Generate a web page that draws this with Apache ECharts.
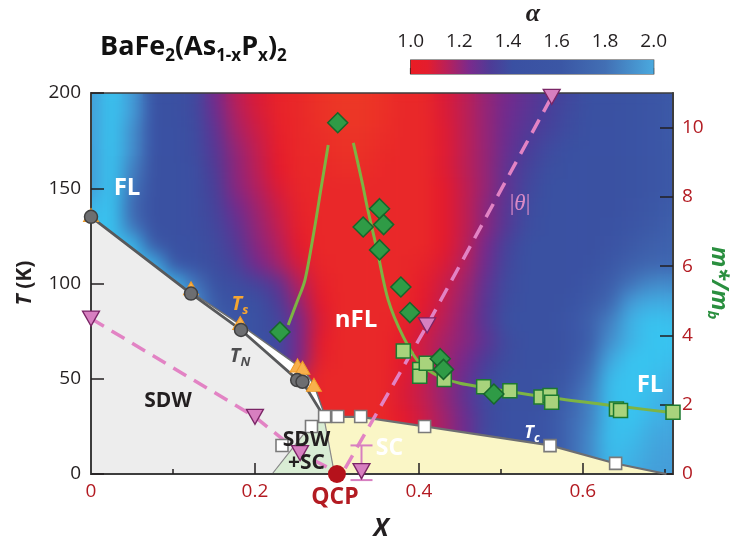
<!DOCTYPE html>
<html><head><meta charset="utf-8">
<script src="https://cdn.jsdelivr.net/npm/echarts@6/dist/echarts.min.js"></script>
<style>
html,body{margin:0;padding:0;background:#fff;}
#wrap{position:relative;width:734px;height:542px;}
#clip{position:absolute;left:91px;top:93px;width:582px;height:381px;overflow:hidden;}
#bgA,#bgB{position:absolute;left:-91px;top:-93px;width:734px;height:542px;}
#bgB{filter:blur(9px);}
#fg{position:absolute;left:0;top:0;width:734px;height:542px;}
</style></head><body>
<div id="wrap"><div id="clip"><div id="bgA"></div><div id="bgB"></div></div><div id="fg"></div></div>
<script>
// ---------- alpha map (x columns, T rows; rows listed from T=200 down to T=0) ----------
const alphaX = [0.000,0.025,0.051,0.076,0.101,0.127,0.152,0.178,0.203,0.228,0.254,0.279,0.304,0.330,0.355,0.380,0.406,0.431,0.456,0.482,0.507,0.533,0.558,0.583,0.609,0.634,0.659,0.685,0.710];
const alphaT = [0,10,20,30,40,50,60,70,80,90,100,110,120,130,140,150,160,170,180,190,200];
const alphaGrid = [
 [1.85,2.05,1.85,1.45,1.45, 1.42,1.25,1.13,1.07,1.02, 1.00,0.97,0.95,0.95,0.97, 1.00,1.00,1.07,1.13,1.20, 1.25,1.30,1.35,1.40,1.45, 1.45,1.47,1.50,1.55],
 [1.85,2.05,1.85,1.45,1.45, 1.42,1.27,1.15,1.08,1.02, 1.00,0.97,0.95,0.95,0.97, 1.00,1.00,1.07,1.13,1.20, 1.26,1.31,1.36,1.42,1.45, 1.45,1.47,1.50,1.55],
 [1.85,2.05,1.80,1.45,1.45, 1.43,1.30,1.17,1.10,1.03, 1.00,0.98,0.96,0.96,0.98, 1.00,1.00,1.06,1.13,1.20, 1.27,1.33,1.38,1.43,1.45, 1.45,1.47,1.50,1.55],
 [1.85,2.05,1.80,1.45,1.45, 1.43,1.32,1.20,1.12,1.04, 1.00,0.99,0.97,0.97,0.99, 1.00,1.00,1.06,1.13,1.20, 1.28,1.35,1.42,1.45,1.45, 1.45,1.47,1.50,1.55],
 [1.85,2.05,1.75,1.45,1.45, 1.44,1.34,1.21,1.13,1.05, 1.00,1.00,0.98,0.98,1.00, 1.00,1.00,1.06,1.13,1.20, 1.30,1.38,1.44,1.45,1.45, 1.45,1.47,1.50,1.55],
 [1.85,2.05,1.70,1.45,1.45, 1.44,1.36,1.22,1.15,1.07, 1.01,1.00,1.00,1.00,1.00, 1.00,1.00,1.05,1.12,1.20, 1.30,1.40,1.45,1.45,1.45, 1.45,1.47,1.50,1.55],
 [1.95,2.05,1.65,1.45,1.45, 1.44,1.38,1.26,1.18,1.10, 1.02,1.00,1.00,1.00,1.00, 1.00,1.00,1.05,1.12,1.22, 1.32,1.42,1.45,1.45,1.45, 1.45,1.48,1.52,1.57],
 [2.00,2.05,1.70,1.45,1.45, 1.44,1.40,1.30,1.20,1.12, 1.03,1.00,1.00,1.00,1.00, 1.00,1.00,1.05,1.12,1.22, 1.33,1.43,1.45,1.45,1.45, 1.46,1.50,1.55,1.60],
 [2.00,2.00,2.00,1.55,1.45, 1.45,1.42,1.33,1.22,1.15, 1.05,1.00,1.00,1.00,1.00, 1.00,1.00,1.05,1.13,1.25, 1.38,1.45,1.45,1.45,1.45, 1.48,1.55,1.60,1.62],
 [2.00,2.00,2.00,1.95,1.50, 1.45,1.43,1.37,1.25,1.18, 1.08,1.01,1.00,1.00,1.00, 1.00,1.02,1.07,1.15,1.27, 1.40,1.45,1.45,1.45,1.46, 1.52,1.60,1.65,1.65],
 [2.00,2.00,2.00,2.00,1.95, 1.70,1.45,1.43,1.38,1.30, 1.15,1.03,1.00,1.00,1.00, 1.00,1.04,1.10,1.18,1.30, 1.42,1.45,1.45,1.45,1.50, 1.58,1.70,1.78,1.78],
 [2.00,2.00,2.00,2.00,2.00, 1.80,1.55,1.45,1.45,1.35, 1.20,1.05,1.00,1.00,1.00, 1.00,1.05,1.12,1.20,1.32, 1.43,1.45,1.45,1.47,1.55, 1.65,1.85,1.92,1.90],
 [1.80,1.80,1.80,1.80,1.80, 1.70,1.60,1.50,1.45,1.40, 1.25,1.07,1.00,1.00,1.00, 1.02,1.07,1.14,1.22,1.33, 1.45,1.45,1.45,1.50,1.60, 1.75,1.95,2.05,2.00],
 [1.60,1.60,1.60,1.60,1.60, 1.60,1.55,1.50,1.45,1.42, 1.25,1.05,1.00,1.00,1.00, 1.04,1.10,1.17,1.22,1.30, 1.42,1.45,1.45,1.48,1.58, 1.80,1.95,2.05,2.05],
 [1.50,1.50,1.50,1.50,1.50, 1.50,1.50,1.45,1.45,1.42, 1.25,1.03,1.00,1.00,1.00, 1.05,1.10,1.18,1.25,1.35, 1.43,1.45,1.45,1.50,1.65, 1.90,2.05,2.05,2.00],
 [1.45,1.45,1.45,1.45,1.45, 1.45,1.45,1.45,1.45,1.40, 1.10,1.00,1.00,1.00,1.00, 1.06,1.12,1.20,1.28,1.40, 1.45,1.45,1.47,1.55,1.70, 2.00,2.05,2.02,1.95],
 [1.45,1.45,1.45,1.45,1.45, 1.45,1.45,1.45,1.45,1.40, 1.05,1.00,1.00,1.00,1.00, 1.07,1.12,1.20,1.30,1.42, 1.45,1.45,1.47,1.60,1.75, 2.02,2.05,2.00,1.90],
 [1.45,1.45,1.45,1.45,1.45, 1.45,1.45,1.45,1.45,1.40, 1.05,1.00,1.00,1.00,1.00, 1.05,1.10,1.18,1.27,1.40, 1.45,1.45,1.50,1.65,1.75, 2.00,2.05,1.95,1.90],
 [1.45,1.45,1.45,1.45,1.45, 1.45,1.45,1.45,1.45,1.40, 1.05,1.00,1.00,1.00,1.00, 1.05,1.10,1.18,1.27,1.42, 1.45,1.45,1.50,1.65,1.78, 2.02,2.00,1.90,1.88],
 [1.45,1.45,1.45,1.45,1.45, 1.45,1.45,1.45,1.45,1.40, 1.05,1.00,1.00,1.00,1.00, 1.05,1.10,1.18,1.27,1.42, 1.45,1.45,1.50,1.65,1.78, 2.00,1.95,1.88,1.85],
 [1.45,1.45,1.45,1.45,1.45, 1.45,1.45,1.45,1.45,1.40, 1.05,1.00,1.00,1.00,1.00, 1.05,1.10,1.18,1.27,1.42, 1.45,1.45,1.50,1.65,1.78, 1.98,1.92,1.86,1.85]
];

// ---------- phase boundaries (x, T) ----------
const tnLine = [[0,135],[0.122,94.7],[0.183,75.6],[0.2525,49.3],[0.258,48.4],[0.283,31]];
const tsLine = [[0.122,95.5],[0.183,78.2],[0.252,57],[0.258,55.5],[0.272,46.8],[0.285,31]];
const tcLine = [[0.283,31],[0.301,30],[0.329,30],[0.407,25],[0.56,15],[0.64,5.5],[0.702,0]];
const sdwScEdge = [[0.221,0],[0.265,24],[0.284,30],[0.297,0]];

// ---------- markers ----------
const tnPts = [[0,135],[0.122,94.7],[0.183,75.6],[0.2515,49.3],[0.258,48.4]];
const tsPts = [[0,136],[0.122,97.5],[0.182,79.3],[0.252,57],[0.258,55.8],[0.272,46.8]];
const tcPts = [[0.233,15],[0.269,24.9],[0.285,30.2],[0.301,30.2],[0.329,30.2],[0.407,24.9],[0.56,14.9],[0.64,5.6]];
const thetaPts = [[0,81.6],[0.2,30],[0.255,11],[0.33,1.5],[0.41,78],[0.562,198]];
const thetaLeft = [[0,81.6],[0.2,30],[0.255,11],[0.293,2.5]];
const thetaRight = [[0.31,3],[0.41,78],[0.562,198]];
const thetaErr = [[0.33,-3.2,15]];
const qcp = [[0.30,0]];

// ---------- effective mass m*/mb (right axis) ----------
const mDiamond = [[0.301,10.14],[0.352,7.66],[0.332,7.13],[0.357,7.2],[0.352,6.47],[0.378,5.4],[0.389,4.66],[0.2305,4.1],[0.426,3.33],[0.43,3.02],[0.4915,2.31]];
const mSquare = [[0.381,3.55],[0.401,3.02],[0.401,2.82],[0.409,3.2],[0.431,2.73],[0.479,2.52],[0.511,2.4],[0.549,2.22],[0.56,2.27],[0.562,2.07],[0.641,1.88],[0.646,1.83],[0.71,1.78]];
const fitLeft = [[0.2406,4.3],[0.251,4.95],[0.261,5.6],[0.272,7.0],[0.281,8.3],[0.2894,9.5]];
const fitRight = [[0.32,9.56],[0.331,8.4],[0.337,7.7],[0.349,6.47],[0.3626,5.02],[0.381,3.96],[0.401,3.2],[0.426,2.8],[0.45,2.62],[0.474,2.52],[0.568,2.18],[0.649,1.94],[0.71,1.77]];

// ---------- ticks ----------
const xLabels = [0,0.2,0.4,0.6];
const xMajorTicks = [0.2,0.4,0.6];
const xMinorTicks = [0.1,0.3,0.5,0.7];
const tTicks = [0,50,100,150,200];
const mTicks = [0,2,4,6,8,10];
const cbTicks = [1.0,1.2,1.4,1.6,1.8,2.0];

// ================= background alpha heat map (sharp layer + blurred layer) =================
const heatData = [];
alphaGrid.forEach((row, r) => {
  const j = alphaT.length - 1 - r;
  row.forEach((v, i) => heatData.push([i, j, v]));
});
const heatOption = {
  animation: false,
  grid: {left: 80.607, top: 83.475, width: 602.79, height: 400.05},
  xAxis: {type: 'category', data: alphaX.map(String), show: false},
  yAxis: {type: 'category', data: alphaT.map(String), show: false},
  visualMap: {show: false, min: 0.95, max: 2.05, dimension: 2, seriesIndex: 0,
    inRange: {color: ['#ec3726','#e51a2c','#b3205f','#75298d','#4a3d98','#3a51a2','#3c59a7','#3f66b0','#4480c2','#459dd8','#3fb3e6','#38c4f0']}},
  series: [{type: 'heatmap', data: heatData, progressive: 0}]
};
echarts.init(document.getElementById('bgA')).setOption(heatOption);
echarts.init(document.getElementById('bgB')).setOption(heatOption);

// ================= foreground =================
const FF = 'Open Sans';
function poly(pts, fill, stroke, lw, z) {
  return {type: 'custom', xAxisIndex: 0, yAxisIndex: 0, z: z, silent: true, data: [[0, 0]],
    renderItem: (p, api) => ({type: 'polygon', shape: {points: pts.map(q => api.coord(q))},
      style: {fill: fill, stroke: stroke || null, lineWidth: lw || 0}})};
}
function line(data, color, width, z, extra) {
  return Object.assign({type: 'line', data: data, symbol: 'none', z: z, silent: true,
    lineStyle: {color: color, width: width}}, extra || {});
}
function scatter(data, symbol, size, style, z, extra) {
  return Object.assign({type: 'scatter', data: data, symbol: symbol, symbolSize: size, z: z,
    clip: false, silent: true, itemStyle: Object.assign({opacity: 1}, style)}, extra || {});
}

const sdwPoly = [[0,0]].concat(tnLine, [[0.284,30],[0.265,24],[0.221,0]]);
const whitePoly = tsLine.concat(tnLine.slice(1).reverse());
const scPoly = [[0.297,0],[0.284,30]].concat(tcLine.slice(1));

const rich = (size, extra) => Object.assign({fontFamily: FF, fontWeight: 'bold', fontSize: size}, extra || {});
const dash = {color: '#e283c4', width: 3.5, type: [15, 9]};

const fg = echarts.init(document.getElementById('fg'));
fg.setOption({
  backgroundColor: 'transparent',
  animation: false,
  textStyle: {fontFamily: FF},
  grid: [
    {left: 91, top: 93, width: 582, height: 381, show: true, borderColor: '#3d3d3d', borderWidth: 1.5, backgroundColor: 'transparent'},
    {left: 410.7, top: 60, width: 243, height: 14, show: true, borderColor: '#3a3a3a', borderWidth: 1.2, backgroundColor: 'transparent'}
  ],
  xAxis: [
    {gridIndex: 0, type: 'value', min: 0, max: 0.71, position: 'bottom', z: 3,
      axisLine: {onZero: false, lineStyle: {color: '#3d3d3d', width: 2}},
      axisTick: {inside: true, length: 11, customValues: xMajorTicks, lineStyle: {color: '#231f20', width: 1.5}},
      axisLabel: {customValues: xLabels, color: '#b31b22', fontSize: 19, fontFamily: FF, margin: 8},
      splitLine: {show: false}},
    {gridIndex: 0, type: 'value', min: 0, max: 0.71, position: 'bottom', z: 3,
      axisLine: {show: false, onZero: false},
      axisTick: {inside: true, length: 5, customValues: xMinorTicks, lineStyle: {color: '#231f20', width: 1.5}},
      axisLabel: {show: false}, splitLine: {show: false}},
    {gridIndex: 1, type: 'value', min: 1, max: 2, position: 'top',
      axisLine: {show: false},
      axisTick: {inside: false, length: 6, customValues: cbTicks, lineStyle: {color: '#231f20', width: 1.2}},
      axisLabel: {customValues: cbTicks, formatter: v => v.toFixed(1), color: '#231f20', fontSize: 19, fontFamily: FF, margin: 9},
      splitLine: {show: false}}
  ],
  yAxis: [
    {gridIndex: 0, type: 'value', min: 0, max: 200, position: 'left', z: 3,
      axisLine: {show: true, onZero: false, lineStyle: {color: '#3d3d3d', width: 2}},
      axisTick: {show: true, inside: true, length: 13, customValues: tTicks, lineStyle: {color: '#231f20', width: 1.5}},
      axisLabel: {customValues: tTicks, color: '#231f20', fontSize: 19, fontFamily: FF, margin: 10},
      splitLine: {show: false}},
    {gridIndex: 0, type: 'value', min: 0, max: 11, position: 'right', z: 3,
      axisLine: {show: true, onZero: false, lineStyle: {color: '#3d3d3d', width: 2}},
      axisTick: {show: true, inside: true, length: 13, customValues: mTicks, lineStyle: {color: '#231f20', width: 1.5}},
      axisLabel: {customValues: mTicks, color: '#b31b22', fontSize: 19, fontFamily: FF, margin: 9},
      splitLine: {show: false}},
    {gridIndex: 1, type: 'value', min: 0, max: 1, show: false}
  ],
  series: [
    // colour bar
    {type: 'custom', xAxisIndex: 2, yAxisIndex: 2, silent: true, data: [[1, 0]], z: 1,
      renderItem: (p, api) => {
        const a = api.coord([cbTicks[0], 0]), b = api.coord([cbTicks[cbTicks.length - 1], 1]);
        return {type: 'rect', shape: {x: a[0], y: b[1], width: b[0] - a[0], height: a[1] - b[1]},
          style: {fill: new echarts.graphic.LinearGradient(0, 0, 1, 0, [
            {offset: 0, color: '#ea1c24'}, {offset: 0.07, color: '#e31d2e'}, {offset: 0.15, color: '#b8205a'},
            {offset: 0.24, color: '#7b2a8c'}, {offset: 0.33, color: '#4d3c97'}, {offset: 0.42, color: '#3a50a2'},
            {offset: 0.62, color: '#3b57a5'}, {offset: 0.8, color: '#426fb4'}, {offset: 1, color: '#4aa9de'}])}};
      }},
    // phase regions
    poly(sdwPoly, '#ededed', null, 0, 1),
    poly(whitePoly, '#ffffff', null, 0, 1),
    poly(scPoly, '#faf6c6', null, 0, 1),
    poly(sdwScEdge, '#d9edd4', '#8a8a8a', 1.2, 1),
    line(tsLine, '#6d6e71', 1.5, 4),
    line(tnLine, '#58595b', 2.8, 4),
    line(tcLine, '#6d6e71', 2.2, 4),
    // |theta| dashed lines
    line(thetaLeft, '#e283c4', 3.5, 4, {lineStyle: dash}),
    line(thetaRight, '#e283c4', 3.5, 4, {lineStyle: dash}),
    // error bar on theta
    {type: 'custom', xAxisIndex: 0, yAxisIndex: 0, z: 5, silent: true, clip: false, data: thetaErr,
      renderItem: (p, api) => {
        const x = api.value(0), lo = api.coord([x, api.value(1)]), hi = api.coord([x, api.value(2)]);
        const st = {stroke: '#d77fc0', lineWidth: 2};
        return {type: 'group', children: [
          {type: 'line', shape: {x1: lo[0], y1: lo[1], x2: hi[0], y2: hi[1]}, style: st},
          {type: 'line', shape: {x1: lo[0] - 11, y1: lo[1], x2: lo[0] + 11, y2: lo[1]}, style: st},
          {type: 'line', shape: {x1: hi[0] - 11, y1: hi[1], x2: hi[0] + 11, y2: hi[1]}, style: st}]};
      }},
    // fits to m*/mb
    line(fitLeft, '#7db443', 3, 4, {yAxisIndex: 1, smooth: 0.3}),
    line(fitRight, '#7db443', 3, 4, {yAxisIndex: 1, smooth: 0.3}),
    // markers
    scatter(qcp, 'circle', 18, {color: '#b5121b'}, 4),
    scatter(tsPts, 'triangle', [15, 13], {color: '#f8b04c', borderColor: '#ef9a26', borderWidth: 1}, 6),
    scatter(tnPts, 'circle', 13, {color: '#6d6e71', borderColor: '#404041', borderWidth: 1.5}, 7),
    scatter(tcPts, 'rect', 12, {color: '#ffffff', borderColor: '#7a7a7a', borderWidth: 1.6}, 7),
    scatter(thetaPts, 'triangle', [17, 15], {color: '#d77fc0', borderColor: '#7a2566', borderWidth: 1.3}, 7, {symbolRotate: 180}),
    scatter(mSquare, 'rect', 14, {color: '#a8d37c', borderColor: '#1c7a2f', borderWidth: 1.5}, 7, {yAxisIndex: 1}),
    scatter(mDiamond, 'diamond', [20, 20], {color: '#2f9b46', borderColor: '#17662b', borderWidth: 1.5}, 8, {yAxisIndex: 1})
  ],
  graphic: [
    {type: 'text', x: 100, y: 47, z: 100, silent: true, style: {
      text: '{m|BaFe}{s|2}{m|(As}{s|1-x}{m|P}{s|x}{m|)}{s|2}', align: 'left', verticalAlign: 'middle',
      rich: {m: rich(27, {fill: '#111', lineHeight: 30, verticalAlign: 'middle'}),
             s: rich(17, {fill: '#111', lineHeight: 17, padding: [19, 0, 0, 0], verticalAlign: 'middle'})}}},
    {type: 'text', x: 533, y: 14, z: 100, silent: true, style: {text: 'α', fontFamily: 'Liberation Serif', fontStyle: 'italic', fontWeight: 'bold', fontSize: 26, fill: '#231f20', align: 'center', verticalAlign: 'middle'}},
    {type: 'text', x: 25, y: 283, rotation: Math.PI / 2, z: 100, silent: true, style: {
      text: '{t|T}{k| (K)}', align: 'center', verticalAlign: 'middle',
      rich: {t: rich(21, {fontStyle: 'italic', fill: '#231f20'}), k: rich(21, {fill: '#231f20'})}}},
    {type: 'text', x: 381, y: 529, z: 100, silent: true, style: {text: 'X', fontFamily: FF, fontStyle: 'italic', fontWeight: 'bold', fontSize: 25, fill: '#231f20', align: 'center', verticalAlign: 'middle'}},
    {type: 'text', x: 719, y: 283, rotation: -Math.PI / 2, z: 100, silent: true, style: {
      text: '{m|m*/m}{s|b}', align: 'center', verticalAlign: 'middle',
      rich: {m: rich(23, {fontStyle: 'italic', fill: '#2a8f3f', lineHeight: 26, verticalAlign: 'middle'}),
             s: rich(15, {fontStyle: 'italic', fill: '#2a8f3f', lineHeight: 15, padding: [14, 0, 0, 0], verticalAlign: 'middle'})}}},
    {type: 'text', x: 127, y: 188, z: 100, silent: true, style: {text: 'FL', fontFamily: FF, fontWeight: 'bold', fontSize: 24, fill: '#fff', align: 'center', verticalAlign: 'middle'}},
    {type: 'text', x: 650, y: 385, z: 100, silent: true, style: {text: 'FL', fontFamily: FF, fontWeight: 'bold', fontSize: 24, fill: '#fff', align: 'center', verticalAlign: 'middle'}},
    {type: 'text', x: 356, y: 320, z: 100, silent: true, style: {text: 'nFL', fontFamily: FF, fontWeight: 'bold', fontSize: 24, fill: '#fff', align: 'center', verticalAlign: 'middle'}},
    {type: 'text', x: 168, y: 401, z: 100, silent: true, style: {text: 'SDW', fontFamily: FF, fontWeight: 'bold', fontSize: 21, fill: '#231f20', align: 'center', verticalAlign: 'middle'}},
    {type: 'text', x: 306.5, y: 451.5, z: 100, silent: true, style: {text: 'SDW\n+SC', fontFamily: FF, fontWeight: 'bold', fontSize: 21, lineHeight: 23, fill: '#231f20', align: 'center', verticalAlign: 'middle'}},
    {type: 'text', x: 389.5, y: 448.5, z: 100, silent: true, style: {text: 'SC', fontFamily: FF, fontWeight: 'bold', fontSize: 23, fill: '#fff', align: 'center', verticalAlign: 'middle'}},
    {type: 'text', x: 240, y: 304, z: 100, silent: true, style: {
      text: '{t|T}{s|s}', align: 'center', verticalAlign: 'middle',
      rich: {t: rich(20, {fontStyle: 'italic', fill: '#f6a531', lineHeight: 22, verticalAlign: 'middle'}),
             s: rich(13, {fontStyle: 'italic', fill: '#f6a531', lineHeight: 13, padding: [12, 0, 0, 0], verticalAlign: 'middle'})}}},
    {type: 'text', x: 240, y: 356, z: 100, silent: true, style: {
      text: '{t|T}{s|N}', align: 'center', verticalAlign: 'middle',
      rich: {t: rich(20, {fontStyle: 'italic', fill: '#4d4d4f', lineHeight: 22, verticalAlign: 'middle'}),
             s: rich(13, {fontStyle: 'italic', fill: '#4d4d4f', lineHeight: 13, padding: [12, 0, 0, 0], verticalAlign: 'middle'})}}},
    {type: 'text', x: 532, y: 433, z: 100, silent: true, style: {
      text: '{t|T}{s|c}', align: 'center', verticalAlign: 'middle',
      rich: {t: rich(18, {fontStyle: 'italic', fill: '#ffffff', lineHeight: 20, verticalAlign: 'middle'}),
             s: rich(12, {fontStyle: 'italic', fill: '#ffffff', lineHeight: 12, padding: [11, 0, 0, 0], verticalAlign: 'middle'})}}},
    {type: 'text', x: 520, y: 204, z: 100, silent: true, style: {
      text: '{b||}{t|θ}{b||}', align: 'center', verticalAlign: 'middle',
      rich: {b: {fontFamily: 'Liberation Serif', fontSize: 23, fill: '#d98ac6'},
             t: {fontFamily: 'Liberation Serif', fontStyle: 'italic', fontSize: 23, fill: '#d98ac6'}}}},
    {type: 'text', x: 335, y: 497, z: 100, silent: true, style: {text: 'QCP', fontFamily: FF, fontWeight: 'bold', fontSize: 23, fill: '#b31b22', align: 'center', verticalAlign: 'middle'}}
  ]
});
</script>
</body></html>
